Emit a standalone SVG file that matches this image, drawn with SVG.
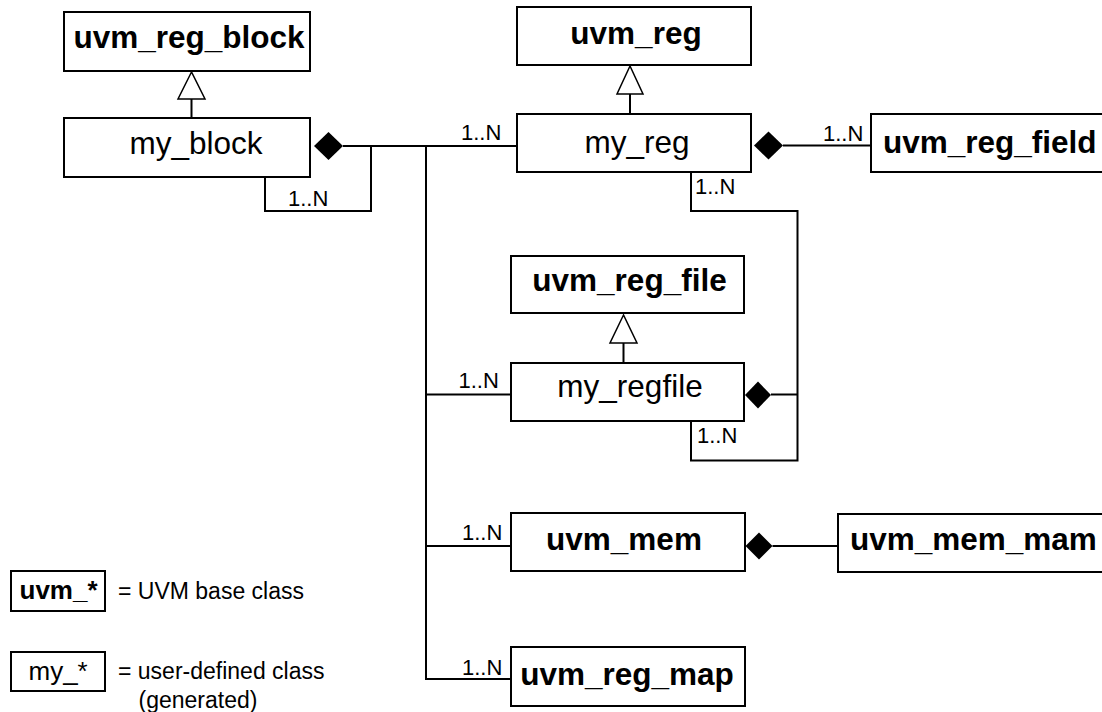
<svg xmlns="http://www.w3.org/2000/svg" width="1102" height="712" viewBox="0 0 1102 712">
<style>
.box{fill:#fff;stroke:#000;stroke-width:2}
.ln{fill:none;stroke:#000;stroke-width:2}
.tri{fill:#fff;stroke:#000;stroke-width:1.5}
.dia{fill:#000;stroke:none}
.b{font-family:"Liberation Sans",Arial,sans-serif;font-weight:bold;font-size:31.5px;fill:#000}
.r{font-family:"Liberation Sans",Arial,sans-serif;font-size:31.5px;fill:#000}
.m{font-family:"Liberation Sans",Arial,sans-serif;font-size:22px;fill:#000}
.lg{font-family:"Liberation Sans",Arial,sans-serif;font-size:23px;fill:#000}
.c{text-anchor:middle}
</style>
<rect width="1102" height="712" fill="#fff"/>
<g id="connectors">
  <!-- generalizations -->
  <line class="ln" x1="191.5" y1="99" x2="191.5" y2="118"/>
  <polygon class="tri" points="191.5,72 178,99 205,99"/>
  <line class="ln" x1="630" y1="94" x2="630" y2="114"/>
  <polygon class="tri" points="630,66 617,94 643,94"/>
  <line class="ln" x1="623.5" y1="343" x2="623.5" y2="363"/>
  <polygon class="tri" points="623.5,315 610,343 637,343"/>
  <!-- my_block composition -->
  <polygon class="dia" points="314,146 328.5,132 343,146 328.5,160"/>
  <line class="ln" x1="343" y1="146" x2="517" y2="146"/>
  <polyline class="ln" points="371,146 371,211 265,211 265,177"/>
  <polyline class="ln" points="426,146 426,679 511,679"/>
  <line class="ln" x1="426" y1="394.5" x2="511" y2="394.5"/>
  <line class="ln" x1="426" y1="546" x2="511" y2="546"/>
  <!-- my_reg composition -->
  <polygon class="dia" points="754,145.5 768.5,131.5 783,145.5 768.5,159.5"/>
  <line class="ln" x1="783" y1="145.5" x2="871" y2="145.5"/>
  <polyline class="ln" points="691,172 691,211 797.5,211 797.5,460.5 691,460.5 691,421"/>
  <!-- my_regfile composition -->
  <polygon class="dia" points="745,395 758,381.5 771,395 758,408.5"/>
  <line class="ln" x1="771" y1="394.5" x2="797.5" y2="394.5"/>
  <!-- uvm_mem composition -->
  <polygon class="dia" points="745.5,546 759,532.5 772.5,546 759,559.5"/>
  <line class="ln" x1="772.5" y1="546" x2="838" y2="546"/>
  <!-- multiplicities -->
  <text class="m" x="288" y="206">1..N</text>
  <text class="m" x="461" y="140">1..N</text>
  <text class="m" x="823" y="140.5">1..N</text>
  <text class="m" x="695" y="194">1..N</text>
  <text class="m" x="458.5" y="388">1..N</text>
  <text class="m" x="697" y="443">1..N</text>
  <text class="m" x="462" y="540">1..N</text>
  <text class="m" x="462" y="675">1..N</text>
</g>
<g id="uvm_reg_block"><rect class="box" x="64" y="12" width="246" height="59"/><text class="b c" x="189" y="48">uvm_reg_block</text></g>
<g id="my_block"><rect class="box" x="64" y="118" width="246" height="59"/><text class="r c" x="196" y="154">my_block</text></g>
<g id="uvm_reg"><rect class="box" x="517" y="7" width="234" height="58"/><text class="b c" x="636" y="44">uvm_reg</text></g>
<g id="my_reg"><rect class="box" x="517" y="114" width="234" height="58"/><text class="r c" x="637" y="153">my_reg</text></g>
<g id="uvm_reg_field"><rect class="box" x="871" y="114" width="260" height="58"/><text class="b" x="883" y="153">uvm_reg_field</text></g>
<g id="uvm_reg_file"><rect class="box" x="511" y="256" width="233" height="57"/><text class="b c" x="629.5" y="291">uvm_reg_file</text></g>
<g id="my_regfile"><rect class="box" x="511" y="363" width="233" height="58"/><text class="r c" x="630" y="397">my_regfile</text></g>
<g id="uvm_mem"><rect class="box" x="511" y="513" width="234" height="58"/><text class="b c" x="624" y="550">uvm_mem</text></g>
<g id="uvm_mem_mam"><rect class="box" x="838" y="514" width="290" height="58"/><text class="b" x="850" y="550">uvm_mem_mam</text></g>
<g id="uvm_reg_map"><rect class="box" x="511" y="647" width="234" height="59"/><text class="b c" x="627" y="685">uvm_reg_map</text></g>
<g id="legend">
  <rect class="box" x="11" y="571" width="94" height="40"/>
  <text class="b" x="19.5" y="599" style="font-size:26px">uvm_*</text>
  <text class="lg" x="118" y="599">= UVM base class</text>
  <rect class="box" x="11" y="652" width="94" height="39"/>
  <text class="r" x="28.5" y="680" style="font-size:26px">my_*</text>
  <text class="lg" x="118" y="678.5">= user-defined class</text>
  <text class="lg" x="138.5" y="708">(generated)</text>
</g>
</svg>
